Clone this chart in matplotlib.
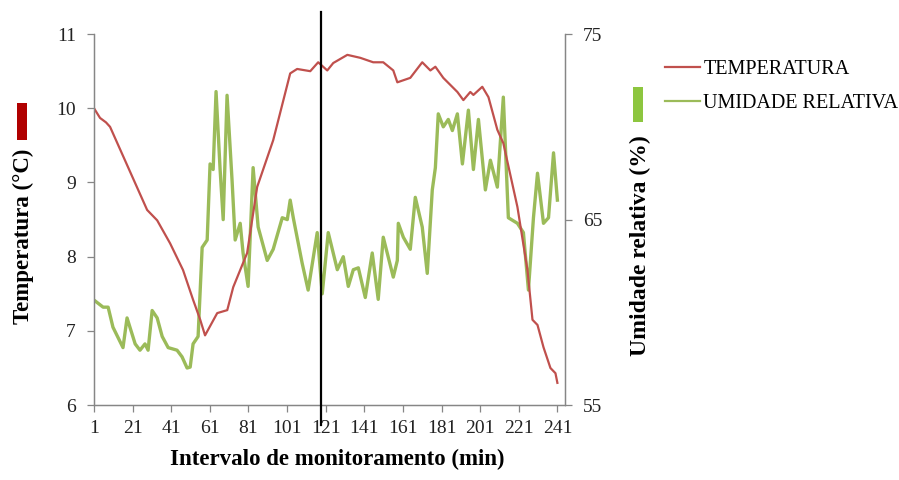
import matplotlib.pyplot as plt
from matplotlib.patches import Rectangle

plt.rcParams['font.family'] = ['Liberation Serif', 'DejaVu Serif']

# temperatura (°C)
temp_x = [1, 4.1, 7.2, 9.3, 28.5, 33.7, 40.4, 47.1, 52.3, 56.0, 58.5, 64.8, 70.0,
          73.1, 80.3, 85.5, 93.8, 102.6, 106.2, 113.0, 117.1, 121.8, 124.9, 132.2,
          138.9, 145.6, 150.8, 156.0, 158.1, 164.8, 171.0, 175.2, 177.8, 181.9,
          189.2, 192.3, 195.9, 197.5, 202.1, 205.3, 209.9, 213.0, 220.3, 225.5,
          228.1, 230.7, 233.8, 237.4, 240.0, 241]
temp_y = [10.00, 9.87, 9.81, 9.75, 8.63, 8.49, 8.18, 7.82, 7.42, 7.15, 6.94, 7.24, 7.28,
          7.59, 8.05, 8.94, 9.57, 10.47, 10.53, 10.50, 10.62, 10.51, 10.61, 10.72,
          10.68, 10.62, 10.62, 10.51, 10.35, 10.41, 10.62, 10.51, 10.56, 10.41,
          10.22, 10.11, 10.22, 10.18, 10.29, 10.15, 9.71, 9.53, 8.67, 7.82,
          7.15, 7.08, 6.78, 6.50, 6.43, 6.30]

# umidade relativa (%)
ur_x = [1, 5.7, 8.3, 10.8, 16.0, 18.1, 22.3, 24.8, 27.4, 29.0, 31.1, 33.7, 36.3, 39.4,
        44.0, 46.6, 49.2, 50.8, 52.3, 54.9, 57.0, 59.6, 61.1, 62.7, 64.2, 66.3, 67.9,
        69.9, 72.5, 74.1, 76.7, 78.2, 80.8, 83.4, 86.0, 90.7, 93.8, 98.5, 101.1,
        102.6, 104.2, 108.8, 111.9, 116.6, 119.2, 122.3, 127.0, 130.1, 132.7, 135.3,
        137.9, 141.5, 145.1, 148.2, 150.8, 156.0, 158.1, 158.6, 161.2, 164.8, 167.4,
        171.0, 173.6, 176.2, 177.8, 179.3, 181.9, 184.5, 186.6, 189.2, 191.8, 194.9,
        197.5, 200.1, 203.7, 206.3, 209.9, 213.0, 215.6, 220.3, 223.4, 226.0, 228.6,
        230.7, 233.8, 236.4, 239.0, 241]
ur_y = [60.66, 60.28, 60.28, 59.2, 58.1, 59.7, 58.3, 57.96, 58.3, 57.96, 60.1, 59.7,
        58.7, 58.1, 57.96, 57.6, 57.0, 57.05, 58.3, 58.7, 63.5, 63.9, 68.0, 67.7, 71.9,
        67.7, 65.0, 71.7, 67.1, 63.9, 64.8, 63.2, 61.4, 67.8, 64.6, 62.8, 63.4, 65.1,
        65.0, 66.05, 65.1, 62.65, 61.2, 64.3, 61.0, 64.3, 62.3, 63.0, 61.4, 62.3, 62.4,
        60.8, 63.2, 60.7, 64.05, 61.9, 62.8, 64.8, 64.05, 63.4, 66.2, 64.6, 62.1, 66.6,
        67.8, 70.7, 70.0, 70.4, 69.8, 70.7, 68.0, 70.9, 67.7, 70.4, 66.6, 68.2, 66.75,
        71.6, 65.1, 64.8, 64.3, 61.2, 65.1, 67.5, 64.8, 65.1, 68.6, 66.05]

x_ticks = [1, 21, 41, 61, 81, 101, 121, 141, 161, 181, 201, 221, 241]
marco_x = 118.5

cor_temp = '#c0504d'
cor_ur = '#9bbb59'
cinza = '#868686'

fig = plt.figure(figsize=(8.99, 4.8), dpi=100)
ax = fig.add_axes([0.1046, 0.156, 0.524, 0.773])
ax2 = ax.twinx()

l1, = ax.plot(temp_x, temp_y, color=cor_temp, lw=1.6, label='TEMPERATURA')
l2, = ax2.plot(ur_x, ur_y, color=cor_ur, lw=2.4, label='UMIDADE RELATIVA')
ax.set_zorder(ax2.get_zorder() + 1)
ax.patch.set_visible(False)

ax.set_xlim(1, 245)
ax.set_ylim(6, 11)
ax2.set_ylim(55, 75)
ax.set_xticks(x_ticks)
ax.set_yticks([6, 7, 8, 9, 10, 11])
ax2.set_yticks([55, 65, 75])

for a in (ax, ax2):
    a.spines['top'].set_visible(False)
    for s in ('left', 'right', 'bottom'):
        a.spines[s].set_color(cinza)
        a.spines[s].set_linewidth(0.9)
    a.tick_params(colors=cinza, labelcolor='#222222', labelsize=14, length=5, width=0.9)
ax.tick_params(axis='x', pad=6)
ax.tick_params(axis='y', pad=8)
ax2.tick_params(axis='y', pad=8)

ax.axvline(marco_x, ymin=-0.054, ymax=1.059, color='black', lw=1.6, clip_on=False, zorder=5)

# rotulos dos eixos
fig.text(337.5 / 899, 1 - 459 / 480, 'Intervalo de monitoramento (min)', fontsize=16.5,
         fontweight='bold', ha='center', va='center')
fig.text(23 / 899, 1 - 236 / 480, 'Temperatura (°C)', fontsize=16.5, fontweight='bold',
         rotation=90, ha='center', va='center')
fig.text(640 / 899, 1 - 246 / 480, 'Umidade relativa (%)', fontsize=17, fontweight='bold',
         rotation=90, ha='center', va='center')

fig.add_artist(Rectangle((17 / 899, 1 - 140 / 480), 10 / 899, 37 / 480,
                         transform=fig.transFigure, color='#b00000', lw=0))
fig.add_artist(Rectangle((633 / 899, 1 - 122 / 480), 10 / 899, 35 / 480,
                         transform=fig.transFigure, color='#8dc63f', lw=0))

leg = fig.legend(handles=[l1, l2], loc='upper left', bbox_to_anchor=(665 / 899, 1 - 60 / 480),
                 frameon=False, fontsize=14.5, handlelength=1.75, handletextpad=0.15,
                 labelspacing=0.75, borderaxespad=0, borderpad=0)
for h in leg.get_lines():
    h.set_linewidth(1.6)

fig.savefig('out.png', dpi=100)
